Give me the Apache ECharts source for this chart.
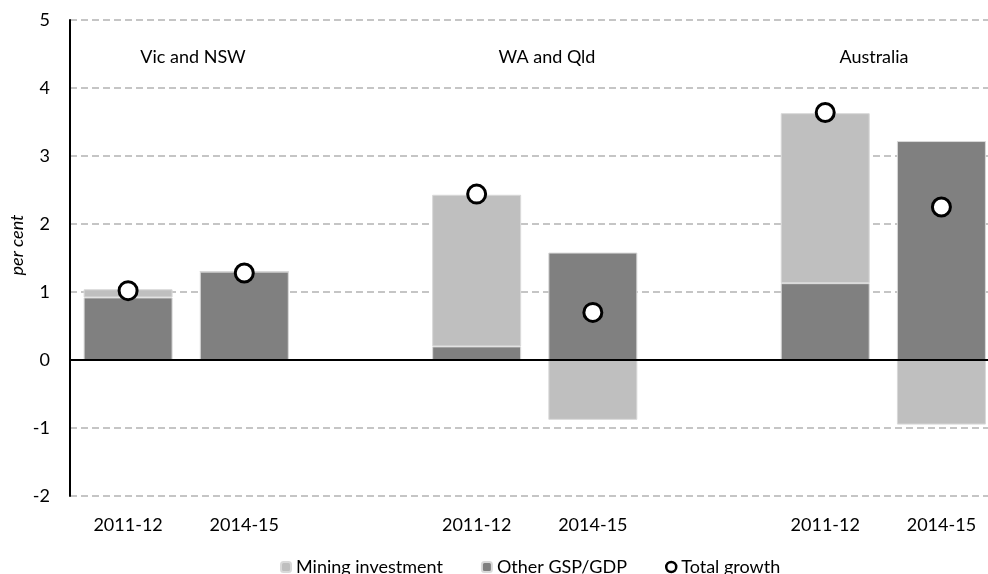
<!DOCTYPE html>
<html>
<head>
<meta charset="utf-8">
<title>Growth contributions</title>
<script src="https://cdn.jsdelivr.net/npm/echarts@6/dist/echarts.min.js"></script>
<style>
  html, body { margin: 0; padding: 0; background: #fff; overflow: hidden; }
  #main { width: 988px; height: 574px; }
</style>
</head>
<body>
<div id="main"></div>
<script>
// categories, blanks separate the three regions
var categories = ['2011-12', '2014-15', '', '2011-12', '2014-15', '', '2011-12', '2014-15'];
var groups = ['Vic and NSW', 'WA and Qld', 'Australia'];

// values in per cent
var otherGsp = [0.92, 1.30, null, 0.20, 1.58, null, 1.13, 3.22];
var mining = [0.12, 0, null, 2.23, -0.88, null, 2.50, -0.95];
var totalGrowth = [1.02, 1.28, null, 2.44, 0.70, null, 3.64, 2.25];

var yTicks = [-2, -1, 0, 1, 2, 3, 4, 5];

var FONT = 'Lato';

var chart = echarts.init(document.getElementById('main'));

chart.setOption({
	animation: false,
	textStyle: { fontFamily: FONT, color: '#000' },
	grid: {
		left: 70,
		top: 20,
		right: -11.5,   // plot runs a little past the right edge, as in the original
		bottom: 78,
		outerBoundsMode: 'none'
	},
	legend: {
		data: [
			'Mining investment',
			'Other GSP/GDP',
			{ name: 'Total growth', itemStyle: { borderWidth: 2.5, borderColor: '#000', color: '#fff' } }
		],
		left: 280,
		top: 558,
		padding: 0,
		itemWidth: 10,
		itemHeight: 10,
		itemGap: 38,
		textStyle: { fontFamily: FONT, fontSize: 18, color: '#000' }
	},
	xAxis: {
		type: 'category',
		data: categories,
		axisLine: { show: false },
		axisTick: { show: false },
		axisLabel: { fontSize: 18, color: '#000', margin: 20, interval: 0 },
		splitLine: { show: false }
	},
	yAxis: {
		type: 'value',
		min: yTicks[0],
		max: yTicks[yTicks.length - 1],
		interval: 1,
		axisLine: { show: true, lineStyle: { color: '#000', width: 2 } },
		axisTick: { show: false },
		axisLabel: { fontSize: 18, color: '#000', margin: 20 },
		splitLine: {
			lineStyle: { color: '#b3b3b3', type: [7, 4], width: 1.5 }
		}
	},
	graphic: [
		{ type: 'text', x: 193, y: 57, style: { text: groups[0], font: '18px ' + FONT, fill: '#000', align: 'center', verticalAlign: 'middle' } },
		{ type: 'text', x: 547, y: 57, style: { text: groups[1], font: '18px ' + FONT, fill: '#000', align: 'center', verticalAlign: 'middle' } },
		{ type: 'text', x: 874, y: 57, style: { text: groups[2], font: '18px ' + FONT, fill: '#000', align: 'center', verticalAlign: 'middle' } },
		{ type: 'text', x: 17, y: 245, rotation: Math.PI / 2, style: { text: 'per cent', font: 'italic 18px ' + FONT, fill: '#000', align: 'center', verticalAlign: 'middle' } }
	],
	series: [
		{
			name: 'Other GSP/GDP',
			type: 'bar',
			stack: 'growth',
			data: otherGsp,
			barWidth: 89,
			itemStyle: { color: '#808080', borderColor: '#d9d9d9', borderWidth: 1 },
			markLine: {
				silent: true,
				symbol: 'none',
				label: { show: false },
				lineStyle: { color: '#000', width: 2, type: 'solid' },
				data: [{ yAxis: 0 }]
			}
		},
		{
			name: 'Mining investment',
			type: 'bar',
			stack: 'growth',
			data: mining,
			barWidth: 89,
			itemStyle: { color: '#bfbfbf', borderColor: '#d9d9d9', borderWidth: 1 }
		},
		{
			name: 'Total growth',
			type: 'scatter',
			data: totalGrowth,
			symbol: 'circle',
			symbolSize: 18,
			z: 5,
			itemStyle: { color: '#fff', borderColor: '#000', borderWidth: 3, opacity: 1 }
		}
	]
});
</script>
</body>
</html>
